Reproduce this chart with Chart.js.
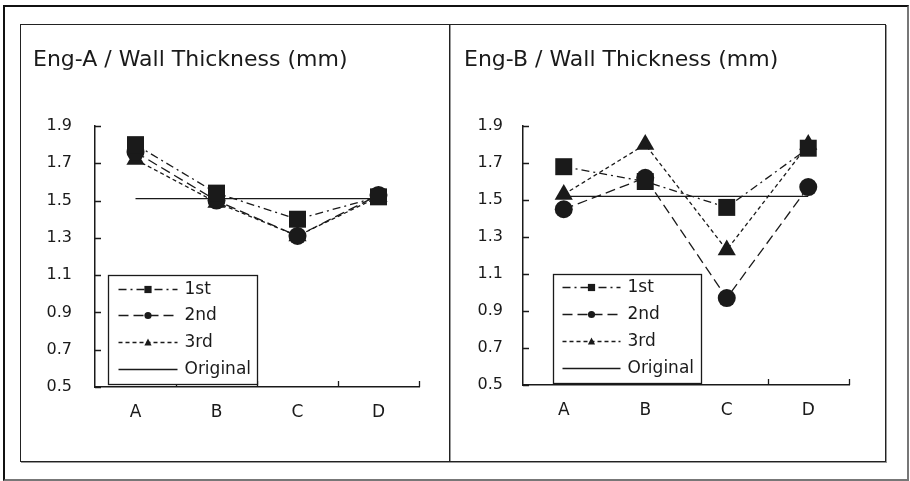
<!DOCTYPE html>
<html>
<head>
<meta charset="utf-8">
<script src="https://cdn.jsdelivr.net/npm/chart.js@4"></script>
<style>
  html, body { margin: 0; padding: 0; background: #fff; }
  body { width: 910px; height: 481px; position: relative; overflow: hidden; }
  #frame {
    position: absolute; left: 3px; top: 5px; width: 906px; height: 476px;
    box-sizing: border-box;
    border-top: 2px solid #111; border-left: 2px solid #111;
    border-right: 2px solid #777; border-bottom: 2px solid #777;
  }
  .panel {
    position: absolute; top: 24px; height: 438px; box-sizing: border-box;
    border: 1px solid #222; box-shadow: 1px 1px 0 #999;
  }
  #panelA { left: 20px; width: 430px; }
  #panelB { left: 449px; width: 437px; }
  canvas { position: absolute; }
  #chartA { left: 21px; top: 25px; }
  #chartB { left: 450px; top: 25px; }
</style>
</head>
<body>
<div id="frame"></div>
<div class="panel" id="panelA"></div>
<div class="panel" id="panelB"></div>
<canvas id="chartA" width="427" height="435"></canvas>
<canvas id="chartB" width="434" height="435"></canvas>
<script>
// Wall thickness (mm) measured at positions A–D, three runs plus the original value
const categories = ['A', 'B', 'C', 'D'];
const yTicks = [0.5, 0.7, 0.9, 1.1, 1.3, 1.5, 1.7, 1.9];
const seriesNames = ['1st', '2nd', '3rd', 'Original'];

const engA1st = [1.80, 1.54, 1.40, 1.52];
const engA2nd = [1.76, 1.50, 1.31, 1.53];
const engA3rd = [1.72, 1.49, 1.31, 1.52];
const engAOriginal = [1.51, 1.51, 1.51, 1.51];

const engB1st = [1.68, 1.60, 1.46, 1.78];
const engB2nd = [1.45, 1.62, 0.97, 1.57];
const engB3rd = [1.53, 1.80, 1.23, 1.80];
const engBOriginal = [1.52, 1.52, 1.52, 1.52];

const FONT = '"DejaVu Sans", Verdana, sans-serif';
const INK = '#1a1a1a';

const seriesStyle = {
  '1st':      { borderDash: [8, 4, 2, 4], pointStyle: 'rect',     pointRadius: 12 },
  '2nd':      { borderDash: [10, 5],      pointStyle: 'circle',   pointRadius: 9 },
  '3rd':      { borderDash: [4, 3],       pointStyle: 'triangle', pointRadius: 10.5 },
  'Original': { borderDash: [],           pointStyle: 'circle',   pointRadius: 0 }
};

function makeDatasets(values) {
  return seriesNames.map((name, i) => Object.assign({
    label: name,
    data: values[i],
    borderColor: INK,
    backgroundColor: INK,
    pointBackgroundColor: INK,
    pointBorderColor: INK,
    pointBorderWidth: 0,
    borderWidth: 1.3,
    tension: 0,
    fill: false,
    clip: false
  }, seriesStyle[name]));
}

// small marker shapes for the boxed legend
function drawMarker(ctx, style, x, y, r) {
  ctx.beginPath();
  if (style === 'rect') {
    ctx.rect(x - r, y - r, 2 * r, 2 * r);
  } else if (style === 'triangle') {
    ctx.moveTo(x, y - r * 1.1);
    ctx.lineTo(x + r, y + r * 0.8);
    ctx.lineTo(x - r, y + r * 0.8);
    ctx.closePath();
  } else {
    ctx.arc(x, y, r, 0, Math.PI * 2);
  }
  ctx.fill();
}

// tick marks pointing into the plot area
const innerTicks = {
  id: 'innerTicks',
  beforeDatasetsDraw(chart, args, opts) {
    const { ctx, chartArea, scales } = chart;
    const { x, y } = scales;
    ctx.save();
    ctx.strokeStyle = INK;
    ctx.lineWidth = 1.3;
    ctx.beginPath();
    y.ticks.forEach((t, i) => {
      const py = Math.round(y.getPixelForTick(i)) + 0.5;
      ctx.moveTo(chartArea.left, py);
      ctx.lineTo(chartArea.left + opts.length, py);
    });
    for (let i = 0; i < categories.length; i++) {
      const px = Math.round(x.getPixelForValue(i + 0.5)) + 0.5;
      ctx.moveTo(px, chartArea.bottom);
      ctx.lineTo(px, chartArea.bottom - opts.length);
    }
    ctx.stroke();
    ctx.restore();
  }
};

// boxed legend with dashed line samples and markers
const boxLegend = {
  id: 'boxLegend',
  afterDatasetsDraw(chart, args, opts) {
    const { ctx, chartArea } = chart;
    const x0 = Math.round(chartArea.left + opts.offsetX) + 0.5;
    const y1 = Math.round(chartArea.bottom - opts.offsetBottom) + 0.5;
    const y0 = y1 - opts.height;
    ctx.save();
    ctx.fillStyle = '#fff';
    ctx.fillRect(x0, y0, opts.width, opts.height);
    ctx.strokeStyle = INK;
    ctx.lineWidth = 1.3;
    ctx.strokeRect(x0, y0, opts.width, opts.height);
    chart.data.datasets.forEach((ds, i) => {
      const y = Math.round(y0 + opts.firstRow + i * opts.rowGap) + 0.5;
      const xs = x0 + opts.sampleStart, xe = x0 + opts.sampleEnd;
      ctx.strokeStyle = INK;
      ctx.lineWidth = ds.borderWidth;
      ctx.setLineDash(ds.borderDash || []);
      ctx.beginPath();
      ctx.moveTo(xs, y);
      ctx.lineTo(xe, y);
      ctx.stroke();
      ctx.setLineDash([]);
      ctx.fillStyle = INK;
      if (ds.pointRadius > 0) drawMarker(ctx, ds.pointStyle, (xs + xe) / 2, y, 3.6);
      ctx.font = '17px ' + FONT;
      ctx.textBaseline = 'middle';
      ctx.textAlign = 'left';
      ctx.fillText(ds.label, x0 + opts.textX, y);
    });
    ctx.restore();
  }
};

function makeChart(canvasId, title, values, lay) {
  return new Chart(document.getElementById(canvasId), {
    type: 'line',
    data: { labels: categories, datasets: makeDatasets(values) },
    options: {
      responsive: false,
      animation: false,
      devicePixelRatio: 1,
      events: [],
      layout: { padding: { left: lay.padLeft, right: lay.padRight, top: 0, bottom: 0 } },
      plugins: {
        legend: { display: false },
        tooltip: { enabled: false },
        title: {
          display: true,
          text: title,
          align: 'start',
          color: INK,
          font: { family: FONT, size: 22, weight: 'normal' },
          padding: { top: 22, bottom: 52.6 }
        },
        innerTicks: { length: 6 },
        boxLegend: lay.legend
      },
      scales: {
        x: {
          type: 'category',
          offset: true,
          grid: { display: false, drawTicks: false, offset: true },
          border: { display: true, color: INK, width: 1.5 },
          ticks: { color: INK, font: { family: FONT, size: 17 }, padding: 15, maxRotation: 0 },
          afterFit: s => { s.height = lay.xHeight; }
        },
        y: {
          type: 'linear',
          min: 0.5,
          max: 1.9,
          grid: { display: false, drawTicks: false },
          border: { display: true, color: INK, width: 1.5 },
          ticks: {
            color: INK,
            font: { family: FONT, size: 16 },
            padding: lay.yPad,
            callback: v => Number(v).toFixed(1)
          },
          afterBuildTicks: s => { s.ticks = yTicks.map(v => ({ value: v })); },
          afterFit: s => { s.width = lay.yWidth; }
        }
      }
    },
    plugins: [innerTicks, boxLegend]
  });
}

makeChart('chartA', 'Eng-A / Wall Thickness (mm)',
  [engA1st, engA2nd, engA3rd, engAOriginal],
  {
    padLeft: 12, padRight: 29, yWidth: 62, yPad: 23, xHeight: 73,
    legend: { offsetX: 13, offsetBottom: 3, width: 149, height: 109,
              firstRow: 13, rowGap: 26.7, sampleStart: 10, sampleEnd: 69, textX: 76 }
  });

makeChart('chartB', 'Eng-B / Wall Thickness (mm)',
  [engB1st, engB2nd, engB3rd, engBOriginal],
  {
    padLeft: 14, padRight: 35, yWidth: 59, yPad: 20, xHeight: 75,
    legend: { offsetX: 30, offsetBottom: 2, width: 148, height: 109,
              firstRow: 12, rowGap: 27, sampleStart: 9, sampleEnd: 67, textX: 74 }
  });
</script>
</body>
</html>
